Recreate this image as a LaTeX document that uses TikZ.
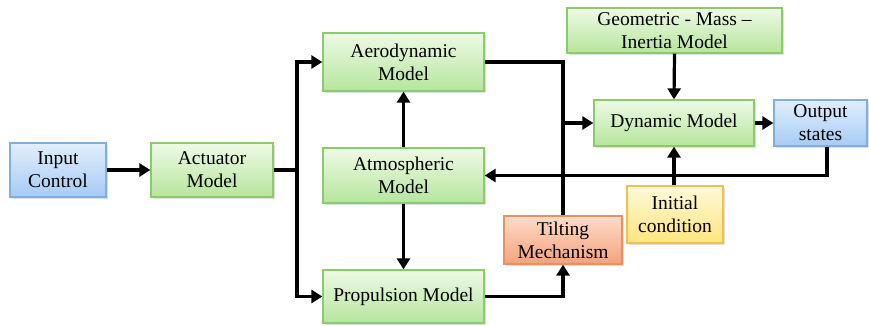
\documentclass[tikz,border=0pt]{standalone}
\usepackage{fontspec}
\setmainfont{Liberation Serif}
\usetikzlibrary{arrows.meta,shadows}
\definecolor{gtop}{HTML}{EEFAE6}
\definecolor{gbot}{HTML}{B6E59C}
\definecolor{gbd}{HTML}{8CCB6C}
\definecolor{btop}{HTML}{E2EEFC}
\definecolor{bbot}{HTML}{A6CBF4}
\definecolor{bbd}{HTML}{7FAEE0}
\definecolor{otop}{HTML}{FCDCC8}
\definecolor{obot}{HTML}{F5A27C}
\definecolor{obd}{HTML}{E8915F}
\definecolor{ytop}{HTML}{FFF9D8}
\definecolor{ybot}{HTML}{FFE47E}
\definecolor{ybd}{HTML}{F0C24A}
\tikzset{
  blk/.style={rectangle, align=center, inner sep=0pt, line width=1.3pt,
    font=\fontsize{19.5}{23}\selectfont,
    drop shadow={shadow xshift=1.5pt, shadow yshift=-1.5pt, opacity=0.25, fill=gray}},
  gbox/.style={blk, draw=gbd, top color=gtop, bottom color=gbot},
  bbox/.style={blk, draw=bbd, top color=btop, bottom color=bbot},
  obox/.style={blk, draw=obd, top color=otop, bottom color=obot},
  ybox/.style={blk, draw=ybd, top color=ytop, bottom color=ybot},
  wire/.style={line width=3.2pt, line join=miter},
  arr/.style={wire, -{Triangle[length=11pt,width=13pt]}}
}
\begin{document}
\begin{tikzpicture}[x=1pt,y=-1pt]
\useasboundingbox (0,0) rectangle (869,325);
\node[bbox, minimum width=96pt, minimum height=54pt] (in) at (58,170) {Input\\Control};
\node[gbox, minimum width=122pt, minimum height=54pt] (act) at (212,170) {Actuator\\Model};
\node[gbox, minimum width=161pt, minimum height=58pt] (aero) at (403.5,62) {Aerodynamic\\Model};
\node[gbox, minimum width=161pt, minimum height=55pt] (atm) at (403.5,175.5) {Atmospheric\\Model};
\node[gbox, minimum width=161pt, minimum height=53pt] (prop) at (403.5,296.5) {Propulsion Model};
\node[obox, minimum width=118pt, minimum height=48pt] (tilt) at (563,240) {Tilting\\Mechanism};
\node[gbox, minimum width=160pt, minimum height=46pt] (dyn) at (674,123) {Dynamic Model};
\node[gbox, minimum width=215pt, minimum height=45pt] (geo) at (674.5,30.5) {Geometric - Mass –\\Inertia Model};
\node[bbox, minimum width=93pt, minimum height=46pt] (out) at (820.5,123) {Output\\states};
\node[ybox, minimum width=96pt, minimum height=57pt] (init) at (675,214.5) {Initial\\condition};

\coordinate (bus) at (297,170);
\coordinate (join) at (563,123);

\draw[arr] (in) -- (act);
\draw[wire] (act.east) -- (bus);
\draw[arr] (bus) |- (aero.west);
\draw[arr] (bus) |- (prop.west);
\draw[arr] (atm.north) -- (aero.south);
\draw[arr] (atm.south) -- (prop.north);
\draw[wire] (aero.east) -| (tilt.north);
\draw[arr] (join) -- (dyn.west);
\draw[arr] (prop.east) -| (tilt.south);
\draw[arr] (geo.south) -- (dyn.north);
\draw[arr] (init.north -| dyn.south) -- (dyn.south);
\draw[arr] (dyn.east) -- (out.west);
\draw[arr] ([xshift=6.5pt]out.south) |- (atm.east);
\end{tikzpicture}
\end{document}
